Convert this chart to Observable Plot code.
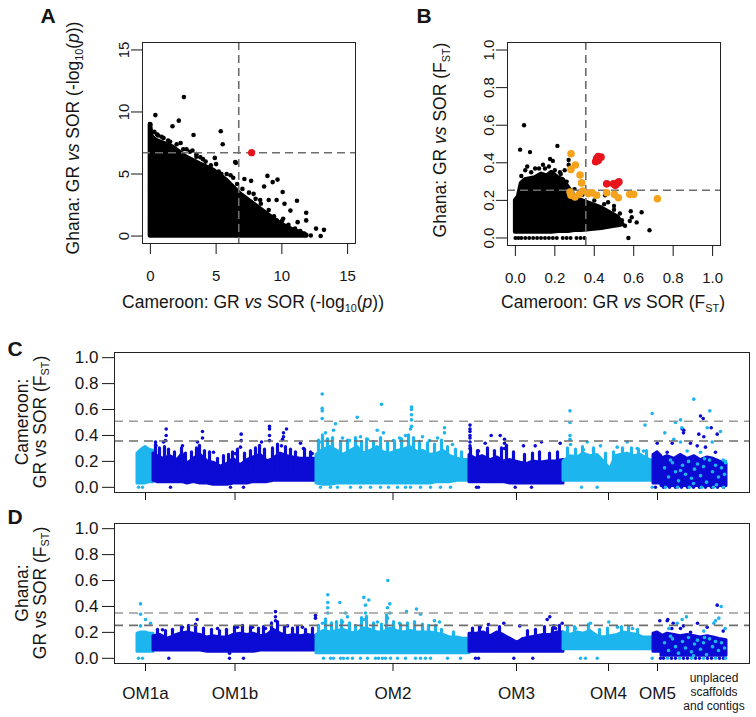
<!DOCTYPE html>
<html><head><meta charset="utf-8">
<script src="https://cdn.jsdelivr.net/npm/d3@7"></script>
<script src="https://cdn.jsdelivr.net/npm/@observablehq/plot@0.6"></script>
<style>
body{margin:0;background:#fff;}
#wrap{position:relative;width:756px;height:717px;overflow:hidden;font-family:"Liberation Sans",Arial,Helvetica,sans-serif;color:#151515;background:#fff;}
.t{position:absolute;white-space:nowrap;line-height:1;text-align:center;}
sub{font-size:0.62em;vertical-align:-0.35em;line-height:0;}
</style></head>
<body><div id="wrap"></div>
<script>
// ---------- Panel A : -log10(p) Cameroon vs Ghana ----------
const aTicks = [0, 5, 10, 15];
const aThreshold = 6.72;
const aCloudX   = [0, 0.12, 0.46, 1.22, 1.73, 2.75, 3.77, 4.8, 5.8, 6.82, 7.84, 8.86, 9.88, 10.9, 11.9];
const aCloudTop = [9, 8.0, 7.7, 7.4, 7.15, 6.35, 5.8, 5.3, 4.5, 3.4, 2.6, 1.8, 1.0, 0.45, 0.05];
const aDotX = [2.55,0.38,2.16,1.68,5.35,5.5,3.28,0.0,4.53,5.4,6.5,6.1,7.15,7.66,8.9,9.3,9.67,8.65,10.06,9.0,9.6,10.2,11.15,10.65,11.85,10.1,11.2,11.85,12.6,13.2,12.95,12.2,11.7,4.9,3.8,3.5,2.75,1.35,0.85,1.2,6.45,6.8,7.85,8.35,8.1,7.3,8.85,9.6,0.3,0.6,1.0,
  0.5,1.5,2.0,2.5,3.0,3.5,4.2,4.6,5.2,5.8,6.3,6.6,7.0,7.5,8.0,8.4,9.0,9.4,10.0,10.5,11.0,11.4,2.3,3.2,4.0,5.0];
const aDotY = [11.2,9.75,9.3,8.85,8.45,7.4,8.15,9.0,5.5,5.0,5.9,4.9,4.6,4.45,4.85,4.35,4.55,4.0,3.55,2.9,2.9,2.6,2.85,2.05,1.88,1.4,1.12,1.26,0.6,0.5,0.0,0.05,0.2,6.3,6.35,6.6,7.0,7.7,8.0,7.1,5.97,3.1,3.4,2.9,2.3,1.5,1.8,1.26,8.4,8.1,7.9,
  8.2,7.6,7.4,7.0,6.8,6.4,6.0,5.7,5.2,5.0,4.7,4.2,3.8,3.5,3.0,2.6,2.1,1.6,1.2,0.9,0.6,0.4,7.5,6.9,6.2,5.8];
const aHitX = [7.7];
const aHitY = [6.72];

// ---------- Panel B : FST Cameroon vs Ghana ----------
const bTicks = [0, 0.2, 0.4, 0.6, 0.8, 1.0];
const bThresholdX = 0.357;
const bThresholdY = 0.254;
const bCloudX   = [0, 0.015, 0.03, 0.05, 0.1, 0.133, 0.16, 0.184, 0.218, 0.243, 0.269, 0.302, 0.336, 0.387, 0.438, 0.488, 0.522, 0.547];
const bCloudTop = [0.2, 0.22, 0.29, 0.31, 0.32, 0.34, 0.33, 0.35, 0.32, 0.31, 0.27, 0.22, 0.2, 0.18, 0.16, 0.13, 0.11, 0.07];
const bCloudBot = [0.03, 0.03, 0.03, 0.03, 0.03, 0.03, 0.03, 0.03, 0.035, 0.035, 0.035, 0.04, 0.04, 0.045, 0.05, 0.06, 0.065, 0.07];
const bDotX = [0.044,0.024,0.074,0.213,0.14,0.176,0.27,0.226,0.27,0.455,0.47,0.5,0.585,0.64,0.59,0.615,0.556,0.68,0.573,0.51,0.54,0.49,0.06,0.12,0.19,0.25,0.58,
  0.03,0.05,0.08,0.1,0.15,0.17,0.2,0.23,0.26,0.3,0.34,0.4,0.45,0.5,0.53,0.42,0.47];
const bDotY = [0.6,0.47,0.457,0.49,0.39,0.42,0.415,0.35,0.39,0.227,0.19,0.17,0.142,0.137,0.11,0.083,0.065,0.041,0.0,0.11,0.095,0.12,0.38,0.37,0.41,0.36,0.09,
  0.33,0.36,0.35,0.37,0.37,0.38,0.36,0.34,0.3,0.26,0.23,0.2,0.18,0.15,0.13,0.07,0.08];
const bZeroX = [0,0.015,0.03,0.05,0.07,0.09,0.11,0.13,0.15,0.17,0.19,0.21,0.24,0.26,0.28,0.31,0.33,0.35];
const bOrangeX = [0.282,0.304,0.282,0.328,0.336,0.341,0.282,0.302,0.324,0.37,0.412,0.389,0.463,0.502,0.522,0.58,0.6,0.72,0.277];
const bOrangeY = [0.448,0.388,0.365,0.335,0.293,0.25,0.227,0.218,0.232,0.236,0.227,0.24,0.241,0.232,0.214,0.232,0.232,0.209,0.245];
const bRedX = [0.412,0.42,0.434,0.407,0.42,0.463,0.497,0.519,0.525,0.507];
const bRedY = [0.423,0.433,0.43,0.406,0.412,0.288,0.288,0.293,0.299,0.28];

// ---------- Panels C & D : genome scans ----------
const chromNames = ["OM1a","OM1b","OM2","OM3","OM4","OM5","unplaced"];
const chromStart = [0, 16, 179, 332, 426, 516, 524];
const chromEnd   = [16, 179, 332, 426, 516, 524, 589];
const chromShade = ["light","dark","light","dark","light","dark","dark"];
const fstTicks = [0, 0.2, 0.4, 0.6, 0.8, 1.0];
const cThresholds = [0.51, 0.357];
const dThresholds = [0.35, 0.254];

const cEnvPos = [
 [0,4,8,12,16],
 [16,20,26,33,40,45,50,56,63,70,76,83,90,96,103,110,116,123,130,136,143,150,156,163,170,179],
 [179,186,193,200,206,213,220,226,233,240,246,253,260,266,273,280,286,293,300,306,313,320,326,332],
 [332,338,345,353,360,366,373,378,383,390,396,403,410,418,426],
 [426,433,440,446,453,460,466,473,478,483,490,496,503,510,516],
 [516,520,524],
 [524,530,537,543,550,557,563,570,576,582,589]];
const cEnvTop = [
 [0.26,0.29,0.31,0.29,0.28],
 [0.26,0.24,0.22,0.24,0.21,0.26,0.18,0.22,0.25,0.2,0.19,0.16,0.18,0.22,0.17,0.21,0.23,0.25,0.2,0.22,0.26,0.24,0.23,0.22,0.22,0.22],
 [0.25,0.29,0.31,0.28,0.25,0.28,0.31,0.26,0.28,0.31,0.27,0.26,0.28,0.29,0.31,0.27,0.28,0.25,0.26,0.28,0.24,0.22,0.21,0.21],
 [0.25,0.22,0.24,0.21,0.23,0.2,0.21,0.2,0.19,0.18,0.2,0.19,0.2,0.2,0.21],
 [0.2,0.24,0.23,0.26,0.24,0.25,0.2,0.14,0.24,0.25,0.26,0.24,0.25,0.22,0.2],
 [0.25,0.27,0.24],
 [0.22,0.24,0.22,0.25,0.22,0.24,0.21,0.23,0.22,0.2,0.18]];
const cEnvBot = [
 [0.03,0.03,0.03,0.04,0.04],
 [0.05,0.04,0.04,0.04,0.04,0.04,0.03,0.04,0.03,0.03,0.02,0.02,0.02,0.03,0.03,0.03,0.04,0.04,0.04,0.05,0.05,0.05,0.05,0.05,0.05,0.05],
 [0.03,0.02,0.02,0.03,0.03,0.03,0.03,0.03,0.03,0.03,0.03,0.03,0.03,0.03,0.03,0.03,0.03,0.03,0.04,0.04,0.04,0.05,0.05,0.05],
 [0.04,0.04,0.04,0.04,0.04,0.04,0.03,0.03,0.03,0.03,0.03,0.03,0.03,0.03,0.03],
 [0.05,0.05,0.05,0.05,0.05,0.05,0.05,0.05,0.05,0.05,0.05,0.05,0.05,0.05,0.05],
 [0.03,0.03,0.03],
 [0.01,0.01,0.01,0.01,0.01,0.01,0.01,0.01,0.01,0.01,0.01]];
const cSpikePos = [18,22,27,31,37,44,48,54,59,62,67,72,80,86,91,95,100,107,113,118,122,127,135,140,148,153,158,167,173,
 181,185,190,195,203,210,218,224,229,236,243,250,257,264,271,276,282,290,297,304,310,318,324,
 333,340,350,357,364,369,376,387,395,402,412,420,
 430,438,445,456,468,476,485,494,501,509];
const cSpikeTop = [0.33,0.3,0.31,0.29,0.27,0.3,0.26,0.27,0.3,0.32,0.28,0.27,0.22,0.24,0.25,0.27,0.29,0.26,0.28,0.3,0.32,0.29,0.3,0.33,0.31,0.29,0.27,0.29,0.27,
 0.36,0.4,0.37,0.38,0.35,0.36,0.38,0.35,0.37,0.35,0.38,0.34,0.35,0.37,0.4,0.38,0.35,0.34,0.33,0.36,0.31,0.29,0.27,
 0.3,0.28,0.3,0.28,0.3,0.32,0.27,0.25,0.26,0.27,0.26,0.27,
 0.3,0.29,0.31,0.3,0.26,0.27,0.3,0.3,0.29,0.28];
const cOutPos = [28.7,28.7,28,65,65,103.7,103.7,132,132,132,132,149,146,146,145,144,60,76,93,18,18.5,26,45,98,103,124,163,166,174.7,
 184.7,184.7,184.7,184.7,244,274,274,274,274,274,273,219.7,198,196,188,239.7,246,285,307,307,223,256,190,205,212,230,262,268,292,300,315,182,
 332.5,332.5,332.5,332.5,332.5,332.5,332.5,332.5,353.7,362.7,367,367,367,347.7,341,386,397.7,404,422.7,
 432.5,432.5,432.5,432.5,433,514.7,507.5,449.7,463,479.7,489.7,499.7,446,506,
 519.7,
 563,565.7,544.7,546.3,546,573.7,579.7,561.3,566.3,553,534.7,559.7,568,578,529.7,539.7];
const cOutVal = [0.45,0.40,0.36,0.43,0.38,0.41,0.36,0.47,0.45,0.40,0.36,0.45,0.42,0.39,0.37,0.32,0.35,0.27,0.03,0.35,0.32,0.35,0.32,0.26,0.31,0.35,0.34,0.3,0.26,
 0.72,0.61,0.59,0.53,0.64,0.62,0.6,0.56,0.52,0.47,0.45,0.54,0.49,0.44,0.42,0.44,0.42,0.39,0.46,0.42,0.39,0.36,0.37,0.38,0.36,0.37,0.38,0.4,0.36,0.38,0.33,0.35,
 0.48,0.45,0.43,0.40,0.38,0.35,0.32,0.30,0.40,0.40,0.37,0.34,0.30,0.34,0.28,0.32,0.32,0.35,0.34,
 0.59,0.5,0.4,0.37,0.33,0.57,0.48,0.35,0.32,0.31,0.35,0.3,0.29,0.28,
 0.34,
 0.55,0.53,0.45,0.44,0.42,0.46,0.41,0.41,0.39,0.34,0.34,0.32,0.31,0.27,0.27,0.23];
const cZeroPos = [1,5,33,93,106,183,193,200,213,223,233,243,251,260,268,273,283,293,303,313,339,341,377.7,394,444,459.7,514.7,518,526,532,538,544,550,556,562,568,574,580,586];
const cLightPos = [556.3,572.3,543,538,527.3,569.7,583,536.3,543,574.7,563,585.7,588,549.7,544.3,527,531,535,538,541,545,548,551,554,557,560,563,566,569,572,575,578,581,584,587,588,533,543,556,567,579,528,540,552,564,576,586];
const cLightVal = [0.68,0.59,0.52,0.5,0.42,0.46,0.43,0.37,0.35,0.35,0.27,0.21,0.2,0.28,0.46,0.15,0.08,0.19,0.12,0.05,0.17,0.1,0.2,0.07,0.14,0.18,0.09,0.16,0.04,0.21,0.12,0.17,0.08,0.15,0.1,0.19,0.21,0.13,0.03,0.22,0.02,0,0,0,0,0,0];

const dEnvPos = [
 [0,4,8,12,16],
 [16,23,30,36,43,50,56,63,70,76,83,90,96,103,110,116,123,130,136,143,150,156,163,170,179],
 [179,186,193,200,206,213,220,226,233,240,246,253,260,266,273,280,286,293,300,306,313,320,326,332],
 [332,339,346,353,360,366,373,380,386,393,400,406,413,420,426],
 [426,433,440,446,453,460,466,473,480,486,493,500,506,516],
 [516,520,524],
 [524,530,537,543,550,557,563,570,576,582,589]];
const dEnvTop = [
 [0.19,0.2,0.2,0.19,0.19],
 [0.17,0.18,0.15,0.17,0.19,0.2,0.19,0.18,0.16,0.17,0.16,0.16,0.18,0.19,0.18,0.19,0.17,0.18,0.22,0.19,0.17,0.18,0.17,0.18,0.17],
 [0.18,0.21,0.2,0.21,0.22,0.2,0.19,0.23,0.22,0.2,0.2,0.23,0.21,0.2,0.21,0.2,0.2,0.2,0.19,0.18,0.16,0.16,0.15,0.15],
 [0.19,0.19,0.2,0.17,0.2,0.18,0.15,0.12,0.15,0.16,0.17,0.18,0.18,0.2,0.2],
 [0.2,0.18,0.2,0.19,0.21,0.17,0.16,0.17,0.18,0.2,0.19,0.18,0.16,0.16],
 [0.19,0.2,0.18],
 [0.17,0.19,0.18,0.17,0.18,0.17,0.16,0.17,0.16,0.15,0.14]];
const dEnvBot = [
 [0.05,0.05,0.05,0.05,0.05],
 [0.06,0.06,0.06,0.06,0.06,0.06,0.06,0.06,0.05,0.05,0.05,0.05,0.05,0.05,0.05,0.05,0.06,0.06,0.06,0.06,0.06,0.06,0.06,0.06,0.06],
 [0.04,0.04,0.04,0.04,0.04,0.04,0.04,0.04,0.04,0.04,0.04,0.04,0.04,0.04,0.04,0.04,0.04,0.04,0.04,0.04,0.04,0.04,0.04,0.04],
 [0.05,0.05,0.05,0.05,0.05,0.05,0.05,0.05,0.05,0.05,0.05,0.05,0.05,0.05,0.05],
 [0.07,0.07,0.07,0.07,0.07,0.07,0.07,0.07,0.07,0.07,0.07,0.07,0.07,0.07],
 [0.05,0.05,0.05],
 [0.02,0.02,0.02,0.02,0.02,0.02,0.02,0.02,0.02,0.02,0.02]];
const dSpikePos = [20,28,35,44,51,58,66,74,82,89,97,105,113,121,126,134,140,147,155,160,168,175,
 181,188,194,199,204,212,218,224,229,236,244,249,256,263,270,277,285,291,298,304,316,
 335,342,350,362,390,398,407,415,422,
 430,437,451,462,470,484,491,500];
const dSpikeTop = [0.22,0.21,0.22,0.24,0.25,0.26,0.23,0.22,0.21,0.22,0.24,0.25,0.24,0.23,0.24,0.27,0.28,0.24,0.23,0.24,0.22,0.23,
 0.25,0.3,0.27,0.28,0.29,0.27,0.25,0.31,0.32,0.27,0.26,0.33,0.28,0.26,0.27,0.28,0.26,0.25,0.25,0.22,0.2,
 0.23,0.24,0.23,0.24,0.21,0.22,0.24,0.23,0.25,
 0.24,0.24,0.26,0.22,0.23,0.24,0.24,0.22];
const dOutPos = [3,3,3,13,8,
 59.7,138,138,138,178,178,92,45,80,115,150,165,25,100,128,
 250.3,190.3,190.3,190.3,190.3,202.3,226.3,231.3,228,228,226,252.3,250,252.3,250,208,210,205,269,279,283,297,302,185,240,262,
 409.7,412.3,424.7,416.3,418,366.3,382.3,342.7,351,
 453,471.3,438,480,495,
 522.3,
 579.7,560,535.7,529.7,543,569.7,585.7,553,530.3,546,534.3];
const dOutVal = [0.42,0.34,0.25,0.27,0.3,
 0.3,0.36,0.32,0.29,0.33,0.31,0.04,0.24,0.23,0.24,0.25,0.24,0.22,0.24,0.23,
 0.6,0.49,0.43,0.39,0.35,0.43,0.47,0.45,0.41,0.35,0.3,0.42,0.39,0.35,0.31,0.35,0.32,0.28,0.36,0.38,0.34,0.29,0.28,0.27,0.28,0.27,
 0.3,0.32,0.27,0.25,0.23,0.27,0.25,0.24,0.26,
 0.27,0.28,0.23,0.24,0.23,
 0.29,
 0.41,0.27,0.27,0.29,0.23,0.24,0.21,0.2,0.3,0.25,0.23];
const dZeroPos = [1,5,31.3,92,106,186,193,196,203,206,210,215,223,230,238,241,245,248,253,260,268,278,283,288,293,310,323,338,341,376.3,395.3,443,448,459.7,514.7,523,526,534,538,546,550,558,562,570,574,582,586];
const dLightPos = [583.7,581.3,578,576.3,549,544.7,539.7,531.3,566.3,587.7,527,531,535,538,541,545,548,551,554,557,560,563,566,569,572,575,578,581,584,587,533,556,567,530,542,554,566,578,588];
const dLightVal = [0.40,0.31,0.29,0.27,0.32,0.3,0.27,0.23,0.21,0.23,0.12,0.06,0.15,0.09,0.04,0.13,0.08,0.16,0.05,0.11,0.14,0.07,0.12,0.03,0.15,0.09,0.13,0.06,0.12,0.08,0.17,0.02,0.16,0,0,0,0,0,0];

// ---------- drawing ----------
const FONT = '"Liberation Sans", Arial, Helvetica, sans-serif';
const INK = "#151515";
const LIGHT = "#1db5ee", DARK = "#0b0bd4";
const wrap = document.getElementById("wrap");
function put(node, left, top) {
  node.style.position = "absolute"; node.style.left = left + "px"; node.style.top = top + "px";
  wrap.appendChild(node);
}
function text(html, x, y, {size = 17.5, bold = false, rot = false, lh = 1} = {}) {
  const d = document.createElement("div");
  d.className = "t";
  d.innerHTML = html;
  d.style.left = x + "px"; d.style.top = y + "px";
  d.style.fontSize = size + "px"; d.style.fontWeight = bold ? "bold" : "normal";
  d.style.lineHeight = lh;
  d.style.transform = "translate(-50%,-50%)" + (rot ? " rotate(-90deg)" : "");
  wrap.appendChild(d);
}
const dash = {stroke: "#6e6e6e", strokeWidth: 1.6, strokeDasharray: "8,5"};
const style = {fontFamily: FONT, fontSize: "15px", color: INK, background: "transparent", overflow: "visible"};

// Panel A
const aCloud = aCloudX.map((x, i) => ({x, y: aCloudTop[i]}));
const aDots = aDotX.map((x, i) => ({x, y: aDotY[i]}));
const aHits = aHitX.map((x, i) => ({x, y: aHitY[i]}));
const plotA = Plot.plot({
  width: 378, height: 320, marginLeft: 142, marginRight: 23, marginTop: 42, marginBottom: 77,
  style,
  x: {domain: [-0.6, 15.6]}, y: {domain: [-0.6, 15.6]},
  marks: [
    Plot.areaY(aCloud, {x: "x", y1: 0, y2: "y", fill: "black", stroke: "black", strokeWidth: 4.5, strokeLinejoin: "round"}),
    Plot.dot(aDots, {x: "x", y: "y", r: 2.3, fill: "black"}),
    Plot.ruleX([aThreshold], dash),
    Plot.ruleY([aThreshold], dash),
    Plot.dot(aHits, {x: "x", y: "y", r: 3.6, fill: "#e8141c"}),
    Plot.frame({stroke: "#222"}),
    Plot.axisX(aTicks, {tickSize: 11, tickPadding: 16, label: null}),
    Plot.axisY(aTicks, {tickSize: 11, tickRotate: -90, label: null})
  ]
});
put(plotA, 0, 0);

// Panel B
const bCloud = bCloudX.map((x, i) => ({x, top: bCloudTop[i], bot: bCloudBot[i]}));
const bDots = bDotX.map((x, i) => ({x, y: bDotY[i]}));
const bZero = bZeroX.map(x => ({x}));
const bOrange = bOrangeX.map((x, i) => ({x, y: bOrangeY[i]}));
const bRed = bRedX.map((x, i) => ({x, y: bRedY[i]}));
const f1 = d3.format(".1f");
const plotB = Plot.plot({
  width: 378, height: 320, marginLeft: 129, marginRight: 36, marginTop: 42, marginBottom: 75,
  style,
  x: {domain: [-0.04, 1.04]}, y: {domain: [-0.04, 1.04]},
  marks: [
    Plot.areaY(bCloud, {x: "x", y1: "bot", y2: "top", fill: "black", stroke: "black", strokeWidth: 4, strokeLinejoin: "round"}),
    Plot.dot(bZero, {x: "x", y: 0, r: 2, fill: "black"}),
    Plot.dot(bDots, {x: "x", y: "y", r: 2.2, fill: "black"}),
    Plot.ruleX([bThresholdX], dash),
    Plot.ruleY([bThresholdY], dash),
    Plot.dot(bOrange, {x: "x", y: "y", r: 3.8, fill: "#f5a31d"}),
    Plot.dot(bRed, {x: "x", y: "y", r: 3.8, fill: "#e8141c"}),
    Plot.frame({stroke: "#222"}),
    Plot.axisX(bTicks, {tickSize: 11, tickPadding: 16, tickFormat: f1, label: null}),
    Plot.axisY(bTicks, {tickSize: 11, tickRotate: -90, tickFormat: f1, label: null})
  ]
});
put(plotB, 378, 0);

// Panels C & D
function chromOf(p) {
  for (let i = 0; i < chromStart.length; i++) if (p >= chromStart[i] && p < chromEnd[i]) return i;
  return chromStart.length - 1;
}
const colorOfChrom = c => chromShade[c] === "light" ? LIGHT : DARK;
const mids = chromNames.slice(0, 6).map((n, i) => (chromStart[i] + chromEnd[i]) / 2);
const nameAt = new Map(mids.map((m, i) => [m, chromNames[i]]));

function scan({envPos, envTop, envBot, spikePos, spikeTop, outPos, outVal, zeroPos, lightPos, lightVal, thr, height, marginTop, marginBottom, labels}) {
  const env = [];
  envPos.forEach((arr, c) => arr.forEach((p, i) => env.push({p, top: envTop[c][i], bot: envBot[c][i], c})));
  const spikes = spikePos.map((p, i) => ({p, v: spikeTop[i], col: colorOfChrom(chromOf(p))}));
  const outs = outPos.map((p, i) => ({p, v: outVal[i], col: colorOfChrom(chromOf(p))}));
  const zeros = zeroPos.map(p => ({p, col: colorOfChrom(chromOf(p))}));
  const lights = lightPos.map((p, i) => ({p, v: lightVal[i]}));
  return Plot.plot({
    width: 756, height, marginLeft: 114, marginRight: 7, marginTop, marginBottom,
    style,
    x: {domain: [-23, 612]}, y: {domain: [-0.04, 1.04]},
    color: {type: "identity"},
    marks: [
      Plot.areaY(env, {x: "p", y1: "bot", y2: "top", z: "c", fill: d => colorOfChrom(d.c), stroke: d => colorOfChrom(d.c), strokeWidth: 3, strokeLinejoin: "round"}),
      Plot.ruleX(spikes, {x: "p", y1: 0.1, y2: "v", stroke: "col", strokeWidth: 3.2, strokeLinecap: "round"}),
      Plot.dot(zeros, {x: "p", y: 0, r: 1.7, fill: "col"}),
      Plot.dot(outs, {x: "p", y: "v", r: 1.8, fill: "col"}),
      Plot.dot(lights, {x: "p", y: "v", r: 1.8, fill: LIGHT}),
      Plot.ruleY([thr[0]], {stroke: "#9a9a9a", strokeWidth: 1.6, strokeDasharray: "9,6"}),
      Plot.ruleY([thr[1]], {stroke: "#6e6e6e", strokeWidth: 1.6, strokeDasharray: "9,6"}),
      Plot.frame({stroke: "#222"}),
      Plot.axisX(mids, {tickSize: 8, tickPadding: 15, fontSize: 17, label: null, tickFormat: labels ? (d => nameAt.get(d)) : (() => "")}),
      Plot.axisY(fstTicks, {tickSize: 12, tickPadding: 4, fontSize: 17, tickFormat: f1, label: null})
    ]
  });
}
put(scan({envPos: cEnvPos, envTop: cEnvTop, envBot: cEnvBot, spikePos: cSpikePos, spikeTop: cSpikeTop, outPos: cOutPos, outVal: cOutVal, zeroPos: cZeroPos,
  lightPos: cLightPos, lightVal: cLightVal, thr: cThresholds, height: 180, marginTop: 22, marginBottom: 18, labels: false}), 0, 330);
put(scan({envPos: dEnvPos, envTop: dEnvTop, envBot: dEnvBot, spikePos: dSpikePos, spikeTop: dSpikeTop, outPos: dOutPos, outVal: dOutVal, zeroPos: dZeroPos,
  lightPos: dLightPos, lightVal: dLightVal, thr: dThresholds, height: 217, marginTop: 23, marginBottom: 54, labels: true}), 0, 500);

// ---------- text ----------
text("A", 48, 15, {size: 21, bold: true});
text("B", 424, 15, {size: 21, bold: true});
text("C", 15, 348, {size: 21, bold: true});
text("D", 15, 516, {size: 21, bold: true});
text("Ghana: GR <i>vs</i> SOR (-log<sub>10</sub>(<i>p</i>))", 74, 138, {rot: true});
text("Cameroon: GR <i>vs</i> SOR (-log<sub>10</sub>(<i>p</i>))", 253, 303);
text("Ghana: GR <i>vs</i> SOR (F<sub>ST</sub>)", 441, 140, {rot: true});
text("Cameroon: GR <i>vs</i> SOR (F<sub>ST</sub>)", 613, 303);
text("Cameroon:<br>GR vs SOR (F<sub>ST</sub>)", 31, 422, {rot: true, lh: 1.05});
text("Ghana:<br>GR vs SOR (F<sub>ST</sub>)", 31, 593, {rot: true, lh: 1.05});
text("unplaced<br>scaffolds<br>and contigs", 714, 692, {size: 12, lh: 1.17});
</script>
</body></html>
